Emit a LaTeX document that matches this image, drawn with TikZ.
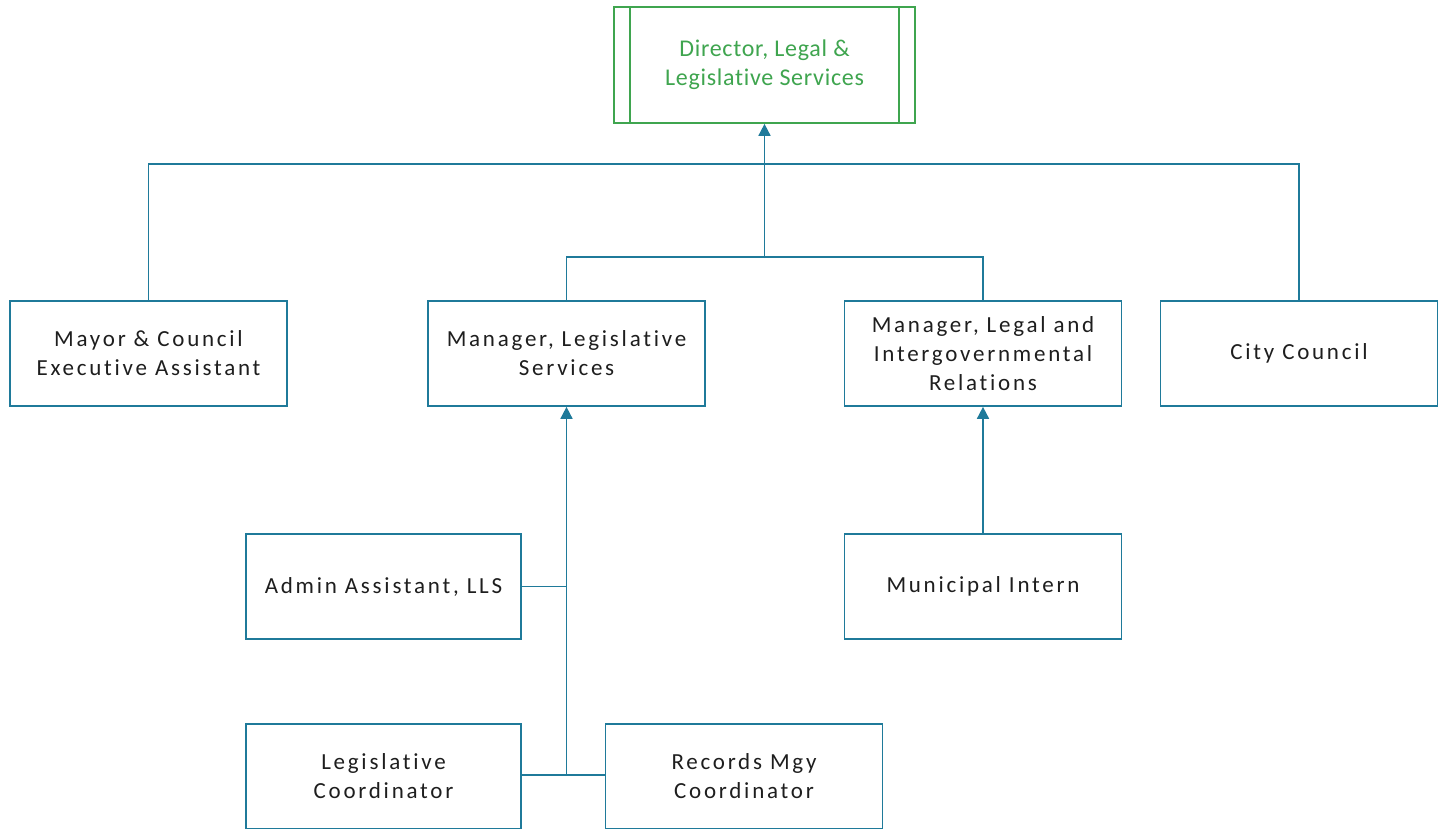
\documentclass[tikz,border=0pt]{standalone}
\usepackage{fontspec}
\setmainfont{Carlito}
\newfontfamily\boxfont[LetterSpace=12, Ligatures={NoCommon}]{Carlito}
\newfontfamily\headfont[LetterSpace=3, Ligatures={NoCommon}]{Carlito}
\usetikzlibrary{arrows.meta}
\definecolor{linkblue}{HTML}{1F7A9A}
\definecolor{headgreen}{HTML}{3FA54F}
\definecolor{textgrey}{HTML}{1E1E1E}
\tikzset{
  x=1pt, y=-1pt,
  role/.style={draw=linkblue, line width=1.7pt, fill=white, inner sep=0pt,
    minimum width=277pt, minimum height=105pt, align=center,
    text=textgrey, font=\boxfont\fontsize{23}{29}\selectfont},
  head/.style={draw=headgreen, line width=1.7pt, fill=white, inner sep=0pt,
    minimum width=301pt, minimum height=116pt, align=center,
    text=headgreen, font=\headfont\fontsize{24}{29}\selectfont},
  link/.style={draw=linkblue, line width=1.7pt},
  linkarrow/.style={link, -{Triangle[width=12pt,length=12pt]}}
}
\begin{document}
\begin{tikzpicture}
\clip (0,0) rectangle (1444,828);
\fill[white] (0,0) rectangle (1444,828);

% top-level position
\node[head] (dir) at (764.5,65) {Director, Legal \&\\Legislative Services};
\draw[draw=headgreen, line width=1.7pt]
  ([xshift=17pt]dir.north west) -- ([xshift=17pt]dir.south west)
  ([xshift=-17pt]dir.north east) -- ([xshift=-17pt]dir.south east);

% second row
\node[role] (mayor) at (148.5,353.5) {Mayor \& Council\\Executive Assistant};
\node[role] (mgrleg) at (566.5,353.5) {Manager, Legislative\\Services};
\node[role] (mgrlegal) at (983,353.5) {Manager, Legal and\\Intergovernmental\\Relations};
\node[role] (council) at (1299,353.5) {City Council};

% third row
\node[role, minimum width=275pt] (admin) at (383.5,586.5) {Admin Assistant, LLS};
\node[role] (intern) at (983,586.5) {Municipal Intern};

% bottom row
\node[role, minimum width=275pt] (legco) at (383.5,776.5) {Legislative\\Coordinator};
\node[role] (records) at (744,776.5) {Records Mgy\\Coordinator};

% reporting lines to the director
\draw[link] (mayor.north) -- ++(0,-136) -| (council.north);
\draw[link] (mgrleg.north) -- ++(0,-43) -| (mgrlegal.north);
\coordinate (j1) at (dir.south |- 0,258);
\draw[linkarrow] (j1) -- (dir.south);

% legislative services team
\coordinate (j2) at (mgrleg.south |- 0,775);
\draw[linkarrow] (j2) -- (mgrleg.south);
\draw[link] (admin.east) -- (admin.east -| mgrleg.south);
\draw[link] (legco.east |- j2) -- (records.west |- j2);

% intern
\draw[linkarrow] (intern.north) -- (mgrlegal.south);
\end{tikzpicture}
\end{document}
